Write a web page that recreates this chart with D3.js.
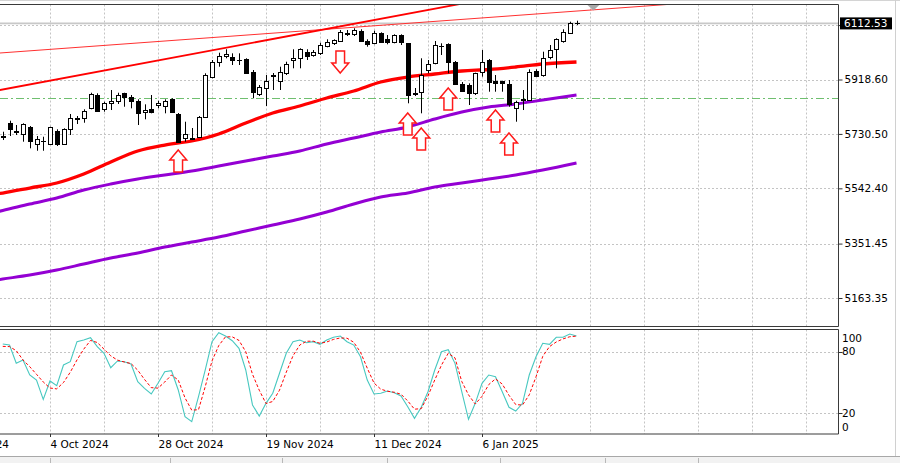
<!DOCTYPE html>
<html><head><meta charset="utf-8">
<script src="https://cdn.jsdelivr.net/npm/d3@7"></script>
<style>
body{margin:0;background:#fff;}
svg{display:block;}
text{font-family:"DejaVu Sans",sans-serif;font-size:10.5px;fill:#000;}
</style>
</head><body>
<svg id="c" width="900" height="463"></svg>
<script>
// ---------- DATA ----------
const openP = [5720.8,5767.2,5740.5,5730.2,5755.4,5695.6,5705.0,5695.6,5741.6,5695.6,5746.4,5782.0,5784.4,5819.0,5865.0,5815.6,5838.4,5845.3,5870.9,5859.1,5845.3,5806.2,5815.6,5830.4,5827.0,5850.1,5799.3,5715.3,5713.9,5719.8,5787.9,5928.3,5980.1,5999.8,5997.4,5987.0,5988.4,5945.5,5868.4,5888.2,5932.4,5913.4,5942.1,5986.0,5993.9,6014.7,6003.3,6011.2,6035.4,6043.7,6051.7,6080.4,6075.9,6087.3,6052.7,6043.7,6078.3,6058.6,6047.2,6072.4,6043.7,5871.9,5876.4,5951.4,5974.6,6034.4,6040.3,5978.0,5902.0,5899.6,5870.9,5945.5,5986.0,5914.4,5913.4,5903.0,5819.0,5849.4,5847.7,5948.0,5934.1,5997.4,6023.0,6052.7,6080.4,6113.9];
const highP = [5738.1,5776.2,5761.3,5767.2,5757.8,5723.2,5720.8,5755.4,5746.4,5749.9,5799.3,5792.4,5815.6,5872.9,5870.9,5841.8,5882.3,5872.9,5872.9,5865.0,5850.1,5832.8,5865.0,5845.3,5850.1,5853.6,5802.8,5772.7,5750.9,5792.4,5940.0,5986.0,6011.2,6023.0,6009.1,6009.1,5991.9,5951.4,5899.6,5934.1,5941.0,5962.8,5980.1,6023.0,6026.4,6023.0,6020.5,6045.8,6057.5,6057.5,6089.7,6089.7,6095.6,6092.1,6057.5,6087.3,6081.7,6072.4,6074.8,6074.8,6044.7,5889.2,5991.9,5986.0,6051.7,6043.7,6043.7,5982.5,5909.9,5905.4,5942.1,6020.5,5989.4,5934.1,5914.4,5916.8,5845.3,5882.3,5953.8,5953.8,6014.7,6037.8,6061.0,6092.1,6118.4,6121.8];
const lowP = [5709.4,5723.2,5726.7,5703.6,5680.7,5672.4,5672.4,5692.2,5688.7,5692.2,5726.7,5764.7,5769.2,5815.6,5807.3,5807.3,5813.1,5833.9,5824.5,5819.0,5761.3,5781.0,5801.7,5819.0,5801.7,5803.8,5700.1,5703.6,5709.4,5716.3,5785.5,5922.7,5962.8,5991.9,5968.7,5968.7,5938.6,5853.6,5861.5,5827.0,5882.3,5882.3,5934.1,5957.3,5957.3,5986.0,5997.4,6003.3,6029.9,6037.8,6049.2,6068.9,6068.9,6049.2,6032.0,6040.3,6045.8,6040.3,6043.7,6037.8,5836.3,5861.5,5801.7,5940.0,5971.1,6003.3,5940.0,5899.6,5875.4,5830.4,5865.0,5928.3,5876.4,5876.4,5876.4,5824.5,5772.7,5813.1,5845.3,5928.3,5928.3,5988.4,5957.3,6045.8,6075.9,6107.0];
const closeP = [5722.2,5746.4,5737.1,5763.7,5706.0,5711.9,5707.0,5753.3,5695.6,5746.4,5784.4,5784.4,5810.7,5868.4,5810.7,5836.3,5844.2,5865.0,5859.1,5845.3,5801.7,5813.1,5806.2,5838.4,5844.2,5807.3,5703.6,5729.1,5715.3,5788.9,5934.1,5980.1,5999.8,6006.7,5986.0,5984.9,5942.1,5876.4,5891.6,5913.4,5934.1,5945.5,5971.1,5991.9,6023.0,5999.8,6014.7,6037.8,6049.2,6055.1,6083.8,6075.9,6089.7,6052.7,6041.3,6078.3,6049.2,6047.2,6072.4,6047.2,5865.0,5870.2,5934.1,5971.1,6037.8,6035.4,5978.0,5902.0,5878.8,5870.9,5940.0,5980.1,5911.0,5907.5,5905.4,5833.9,5841.8,5850.1,5945.5,5930.7,5993.9,6020.5,6057.5,6083.8,6114.9,6112.53];

// moving averages read at these bar indices
const maBars    = [-1,0,4,8,12,16,20,24,28,32,36,40,44,48,52,56,60,64,68,72,76,80,85];
const maRed     = [5522.7,5526.2,5543.5,5560.8,5591.9,5633.4,5671.4,5692.1,5706.0,5730.2,5768.2,5802.8,5827.0,5854.6,5878.8,5909.9,5927.2,5937.6,5948.0,5953.1,5961.8,5972.2,5979.1];
const maViolet  = [5460.5,5465.7,5488.2,5508.9,5536.6,5557.3,5574.6,5588.4,5602.3,5619.5,5636.8,5654.1,5671.4,5695.6,5716.3,5737.1,5754.4,5782.0,5806.2,5823.5,5833.9,5847.7,5865.0];
const maViolet2 = [5225.4,5228.9,5242.7,5260.0,5280.8,5301.5,5318.8,5339.5,5356.8,5374.1,5394.8,5415.6,5436.3,5460.5,5488.2,5512.4,5526.2,5546.9,5560.8,5574.6,5588.4,5605.7,5629.9];

// stochastic %K and signal
const stochK = [87.5,86.5,68.7,71.9,57.3,52.4,33.6,51.5,46.9,67.1,70.3,89.8,91.4,93.7,84.9,78.5,64.4,71.0,70.3,68.0,50.8,44.3,38.8,49.2,60.5,61.5,42.7,16.7,11.8,36.2,62.2,89.8,98.5,95.3,90.7,83.3,62.2,28.1,17.3,29.7,39.5,59.0,78.5,89.8,91.4,88.8,89.8,87.2,91.4,94.1,95.3,89.8,86.5,75.1,52.4,38.8,39.5,41.7,40.1,36.8,26.4,15.1,25.8,41.0,62.2,80.0,82.0,68.7,41.0,14.1,29.7,49.2,57.3,55.7,41.0,25.8,22.2,29.7,57.3,75.1,88.2,87.2,94.1,94.1,97.3,95.3];
const stochD = [85.2,85.0,81.0,72.0,65.4,58.0,50.5,44.6,43.8,50.0,60.0,72.0,82.5,91.0,89.0,82.5,76.0,71.8,70.0,68.5,62.0,53.0,45.0,44.5,50.5,57.3,52.4,35.0,23.0,23.5,46.0,71.0,86.0,94.5,94.5,91.0,80.0,58.0,42.5,29.5,31.5,42.5,60.0,76.0,86.5,90.2,90.3,88.2,89.5,92.0,93.4,93.2,89.2,79.5,64.0,49.5,43.5,41.5,40.5,38.6,32.0,24.0,24.5,37.0,52.5,67.0,78.5,74.0,51.0,38.0,29.0,36.5,48.0,53.5,48.5,37.5,28.5,28.0,38.0,55.5,75.5,85.0,89.5,92.5,94.6,95.2];

// trend lines (bar index, price) and level
const trendThickBars = [0,70],  trendThickPrices = [5884.0,6189.5];
const trendThinBars  = [0,100], trendThinPrices  = [6010.9,6180.6];
const levelPrice = 5853.0;
const bidPrice = 6112.53;

// arrows
const arrowBars = [26,50,60,62,66,73,75];
const arrowTips = [5674.9,5941.0,5802.8,5751.0,5889.2,5813.1,5733.6];
const arrowDirs = [1,-1,1,1,1,1,1];

// axes
const priceTicks = [6106.70,5918.60,5730.50,5542.40,5351.45,5163.35];
const dateBars = [-9,7,23,39,55,71];
const dateLabels = ["12 Sep 2024","4 Oct 2024","28 Oct 2024","19 Nov 2024","11 Dec 2024","6 Jan 2025"];
const stochTicks = [100,80,20,0];

// ---------- LAYOUT ----------
const svg = d3.select('#c');
const plotR = 838.5, mainTop = 4.5, mainBot = 326.5, stTop = 329.5, stBot = 434;
const x = d3.scaleLinear().domain([0,85]).range([2.75,576.5]);
const y = d3.scaleLinear().domain([5163.35,5918.60]).range([298,79.5]);
const ys = d3.scaleLinear().domain([0,100]).range([433.8,331.2]);
const px = v => Math.round(v) + 0.5;

svg.append('rect').attr('width',900).attr('height',463).attr('fill','#fff');

const defs = svg.append('defs');
defs.append('clipPath').attr('id','cm').append('rect').attr('x',0).attr('y',mainTop).attr('width',plotR).attr('height',mainBot-mainTop);
defs.append('clipPath').attr('id','cs').append('rect').attr('x',0).attr('y',stTop).attr('width',plotR).attr('height',stBot-stTop);

// window borders
svg.append('line').attr('x1',0).attr('x2',900).attr('y1',0.5).attr('y2',0.5).attr('stroke','#d4d4d4');
svg.append('line').attr('x1',895.5).attr('x2',895.5).attr('y1',0).attr('y2',457).attr('stroke','#d0d0d0');

const gm = svg.append('g').attr('clip-path','url(#cm)');
const gs = svg.append('g').attr('clip-path','url(#cs)');

// vertical grid
const gridBars = d3.range(-1, 124, 8);
[[gm,mainTop,mainBot],[gs,stTop,stBot]].forEach(([g,t,b])=>{
  g.selectAll(null).data(gridBars).enter().append('line')
    .attr('x1',d=>px(x(d))).attr('x2',d=>px(x(d))).attr('y1',t).attr('y2',b)
    .attr('stroke','#c4c4c4').attr('stroke-dasharray','2,2');
});
// horizontal grid main
gm.selectAll(null).data(priceTicks).enter().append('line')
  .attr('x1',0).attr('x2',plotR).attr('y1',d=>px(y(d))).attr('y2',d=>px(y(d)))
  .attr('stroke','#c4c4c4').attr('stroke-dasharray','2,2');
// horizontal grid stoch
gs.selectAll(null).data([80,20]).enter().append('line')
  .attr('x1',0).attr('x2',plotR).attr('y1',d=>px(ys(d))).attr('y2',d=>px(ys(d)))
  .attr('stroke','#c4c4c4').attr('stroke-dasharray','2,2');

// bid line
gm.append('line').attr('x1',0).attr('x2',plotR).attr('y1',y(bidPrice)).attr('y2',y(bidPrice))
  .attr('stroke','#c8c8c8').attr('stroke-width',1.6);

// level line
gm.append('line').attr('x1',0).attr('x2',plotR).attr('y1',px(y(levelPrice))).attr('y2',px(y(levelPrice)))
  .attr('stroke','#6fbf6f').attr('stroke-width',1.2).attr('stroke-dasharray','8,3,2,3');

// trend lines
const tl = (bars, prices) => {
  const xa=x(bars[0]), xb=x(bars[1]), ya=y(prices[0]), yb=y(prices[1]);
  const s=(yb-ya)/(xb-xa);
  return [ -10, ya + s*(-10-xa), plotR+10, ya + s*(plotR+10-xa)];
};
{
  const [x1,y1,x2,y2] = tl(trendThinBars, trendThinPrices);
  gm.append('line').attr('x1',x1).attr('y1',y1).attr('x2',x2).attr('y2',y2).attr('stroke','#ff3030').attr('stroke-width',1);
}
{
  const [x1,y1,x2,y2] = tl(trendThickBars, trendThickPrices);
  gm.append('line').attr('x1',x1).attr('y1',y1).attr('x2',x2).attr('y2',y2).attr('stroke','#ff0000').attr('stroke-width',1.8);
}

// moving averages
const maLine = d3.line().x((d,i)=>x(maBars[i])).y(d=>y(d)).curve(d3.curveMonotoneX);
gm.append('path').attr('d',maLine(maViolet2)).attr('fill','none').attr('stroke','#9400d3').attr('stroke-width',3);
gm.append('path').attr('d',maLine(maViolet)).attr('fill','none').attr('stroke','#9400d3').attr('stroke-width',3);
gm.append('path').attr('d',maLine(maRed)).attr('fill','none').attr('stroke','#ff0000').attr('stroke-width',3.3);

// candles
const idx = d3.range(openP.length);
const cg = gm.append('g');
idx.forEach(i=>{
  const cx = Math.round(x(i));
  cg.append('line').attr('x1',cx+0.5).attr('x2',cx+0.5).attr('y1',y(highP[i])).attr('y2',y(lowP[i])).attr('stroke','#000');
  const yo=y(openP[i]), yc=y(closeP[i]);
  const top=Math.round(Math.min(yo,yc)), bot=Math.round(Math.max(yo,yc));
  const bull = closeP[i] >= openP[i];
  if (bot-top < 1) {
    cg.append('line').attr('x1',cx-2).attr('x2',cx+3).attr('y1',top+0.5).attr('y2',top+0.5).attr('stroke','#000');
  } else {
    cg.append('rect').attr('x',cx-2+0.5).attr('y',top+0.5).attr('width',4).attr('height',bot-top)
      .attr('fill',bull?'#fff':'#000').attr('stroke','#000');
  }
});

// arrows
const arrowPath = 'M0,0 L8.5,10 L4.3,10 L4.3,22 L-4.3,22 L-4.3,10 L-8.5,10 Z';
gm.selectAll(null).data(arrowBars).enter().append('path')
  .attr('d',arrowPath)
  .attr('transform',(d,i)=>`translate(${x(d)},${y(arrowTips[i])}) scale(1,${arrowDirs[i]})`)
  .attr('fill','#fff').attr('stroke','#ff1a1a').attr('stroke-width',1.5).attr('stroke-linejoin','miter');

// shift marker
svg.append('path').attr('d',`M${x(87.5)-6.5},${mainTop} L${x(87.5)+6.5},${mainTop} L${x(87.5)},${mainTop+6} Z`).attr('fill','#a8a8a8');

// stochastic lines
const stLine = d3.line().x((d,i)=>x(i)).y(d=>ys(d));
gs.append('path').attr('d',stLine(stochK)).attr('fill','none').attr('stroke','#48c8c0').attr('stroke-width',1.1);
gs.append('path').attr('d',stLine(stochD)).attr('fill','none').attr('stroke','#ff0000').attr('stroke-width',1).attr('stroke-dasharray','3,2');

// frames
const frame = (t,b) => {
  svg.append('path').attr('d',`M0,${t} L${plotR},${t} L${plotR},${b} L0,${b}`).attr('fill','none').attr('stroke','#3a3a3a').attr('stroke-width',1);
};
frame(mainTop, mainBot);
frame(stTop, stBot);

// right price axis
const ay = svg.append('g').attr('transform',`translate(${plotR},0)`)
  .call(d3.axisRight(y).tickValues(priceTicks).tickSize(4).tickPadding(2).tickFormat(d3.format('.2f')));
ay.select('.domain').remove();
ay.selectAll('line').attr('stroke','#333');
ay.selectAll('text').attr('font-family','DejaVu Sans').attr('font-size','10.5px').attr('fill','#000');

// bid label
svg.append('rect').attr('x',840).attr('y',y(bidPrice)-6).attr('width',52).attr('height',12).attr('fill','#000');
svg.append('text').attr('x',844).attr('y',y(bidPrice)).attr('dy','0.35em').attr('fill','#fff').style('fill','#fff').text(d3.format('.2f')(bidPrice));

// stochastic axis
svg.selectAll(null).data([80,20]).enter().append('line')
  .attr('x1',plotR).attr('x2',plotR+4).attr('y1',d=>px(ys(d))).attr('y2',d=>px(ys(d))).attr('stroke','#333');
svg.selectAll(null).data(stochTicks).enter().append('text')
  .attr('x',842).attr('y',d=>Math.max(338,Math.min(427,ys(d)))).attr('dy','0.35em').text(d=>d);

// date axis
const ax = svg.append('g').attr('transform',`translate(0,${stBot})`)
  .call(d3.axisBottom(x).tickValues(dateBars).tickSize(3).tickPadding(4).tickFormat((d,i)=>dateLabels[i]));
ax.select('.domain').remove();
ax.selectAll('line').attr('stroke','#333');
ax.selectAll('text').attr('text-anchor','start').attr('font-family','DejaVu Sans').attr('font-size','10.5px').attr('fill','#000');

// bottom strip
svg.append('rect').attr('x',0).attr('y',457).attr('width',900).attr('height',6).attr('fill','#f2f2f2');
svg.append('line').attr('x1',0).attr('x2',900).attr('y1',456.5).attr('y2',456.5).attr('stroke','#a8a8a8');
svg.selectAll(null).data([50,170,282,387,500,605,698]).enter().append('line')
  .attr('x1',d=>d+0.5).attr('x2',d=>d+0.5).attr('y1',458).attr('y2',463).attr('stroke','#b8b8b8');
</script>
</body></html>
